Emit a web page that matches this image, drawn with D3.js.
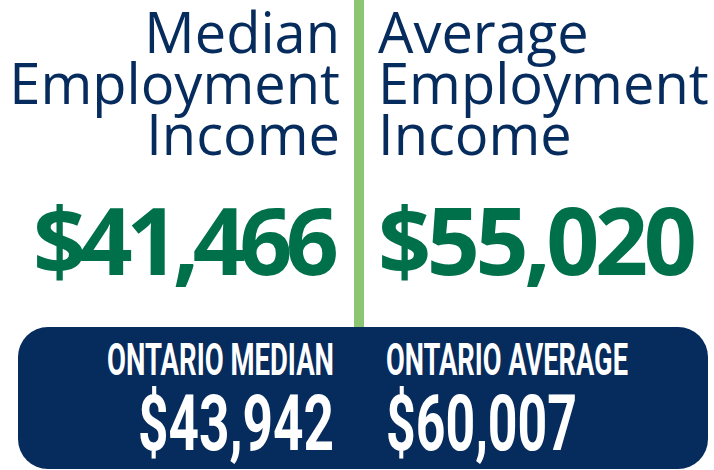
<!DOCTYPE html>
<html>
<head>
<meta charset="utf-8">
<script src="https://cdn.jsdelivr.net/npm/d3@7"></script>
<style>
  html, body { margin: 0; padding: 0; background: #fff; }
</style>
</head>
<body>
<div id="chart"></div>
<script>
// Data
const columns = ["median", "average"];
const headingLines = [
  ["Median", "Employment", "Income"],
  ["Average", "Employment", "Income"]
];
const localValues = [41466, 55020];
const ontarioLabels = ["ONTARIO MEDIAN", "ONTARIO AVERAGE"];
const ontarioValues = [43942, 60007];

const width = 714, height = 470;
const navy = "#062b5d";
const green = "#00704a";
const lightGreen = "#8dc672";
const fmt = d3.format("$,");

const svg = d3.select("#chart").append("svg")
  .attr("width", width)
  .attr("height", height);

// column anchors: left column right-aligned, right column left-aligned
const colX = d3.scaleOrdinal().domain(columns).range([340, 378]);
const colAnchor = d3.scaleOrdinal().domain(columns).range(["end", "start"]);

// divider
svg.append("rect")
  .attr("x", 354)
  .attr("y", 0)
  .attr("width", 10)
  .attr("height", 330)
  .attr("fill", lightGreen);

// headings
const lineY = d3.scaleLinear().domain([0, 2]).range([53, 155]);
columns.forEach((c, i) => {
  svg.append("g")
    .selectAll("text")
    .data(headingLines[i])
    .join("text")
    .attr("x", colX(c))
    .attr("y", (d, j) => lineY(j))
    .attr("text-anchor", colAnchor(c))
    .style("font-family", "'Open Sans', sans-serif")
    .style("font-size", "56px")
    .style("fill", navy)
    .text(d => d);
});

// big local values
const bigWidths = [306, 319];
svg.append("g")
  .selectAll("text")
  .data(localValues)
  .join("text")
  .attr("x", (d, i) => columns[i] === "median" ? 339 : 378)
  .attr("y", 275)
  .attr("text-anchor", (d, i) => colAnchor(columns[i]))
  .attr("textLength", (d, i) => bigWidths[i])
  .attr("lengthAdjust", "spacing")
  .style("font-family", "'Open Sans', sans-serif")
  .style("font-weight", 700)
  .style("font-size", "93px")
  .style("fill", green)
  .text(d => fmt(d));

// Ontario box
svg.append("rect")
  .attr("x", 18)
  .attr("y", 327)
  .attr("width", 690)
  .attr("height", 142)
  .attr("rx", 30)
  .attr("fill", navy);

const labelWidths = [227, 242];
const boxX = d3.scaleOrdinal().domain(columns).range([334, 386]);
svg.append("g")
  .selectAll("text")
  .data(ontarioLabels)
  .join("text")
  .attr("x", (d, i) => boxX(columns[i]))
  .attr("y", 375)
  .attr("text-anchor", (d, i) => colAnchor(columns[i]))
  .attr("textLength", (d, i) => labelWidths[i])
  .attr("lengthAdjust", "spacingAndGlyphs")
  .style("font-family", "Roboto, sans-serif")
  .style("font-weight", 700)
  .style("font-size", "45px")
  .style("fill", "#fff")
  .text(d => d);

const ontWidths = [196, 191];
svg.append("g")
  .selectAll("text")
  .data(ontarioValues)
  .join("text")
  .attr("x", (d, i) => boxX(columns[i]))
  .attr("y", 450)
  .attr("text-anchor", (d, i) => colAnchor(columns[i]))
  .attr("textLength", (d, i) => ontWidths[i])
  .attr("lengthAdjust", "spacingAndGlyphs")
  .style("font-family", "Roboto, sans-serif")
  .style("font-weight", 700)
  .style("font-size", "77px")
  .style("fill", "#fff")
  .text(d => fmt(d));
</script>
</body>
</html>
